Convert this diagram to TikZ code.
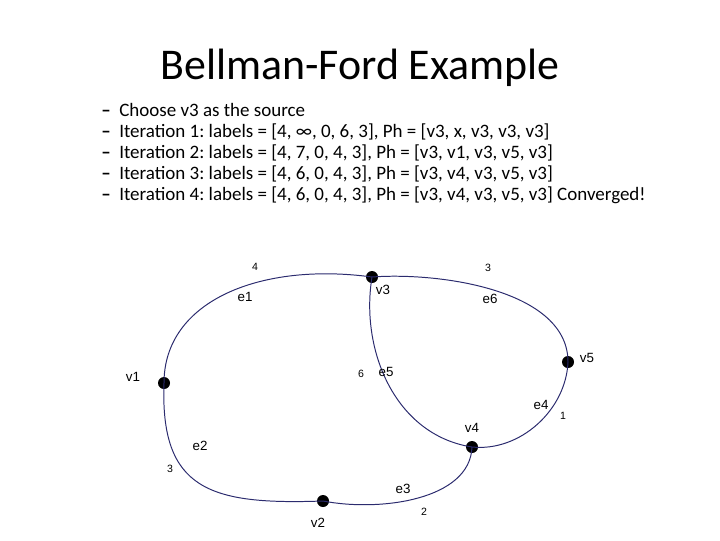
\documentclass[tikz,border=0pt]{standalone}
\usepackage{fontspec}
\setmainfont{Carlito}
\newfontfamily\graphfont{Liberation Sans}
\usetikzlibrary{positioning}
\definecolor{edgenavy}{HTML}{2B2B6E}
\frenchspacing
\tikzset{
    every node/.style={font=\small},
    titletext/.style={font=\fontsize{31.2}{37}\selectfont},
    bullet/.style={font=\fontsize{13.5}{16}\selectfont,anchor=base west,inner sep=0pt},
    vertex/.style={circle,fill=black,minimum size=3mm,inner sep=0pt},
    vlabel/.style={font=\graphfont\fontsize{9.5}{11}\selectfont,inner sep=1pt},
    elabel/.style={font=\graphfont\fontsize{9.5}{11}\selectfont,inner sep=1pt},
    wlabel/.style={font=\graphfont\fontsize{7.5}{9}\selectfont,inner sep=1pt},
    graphedge/.style={draw=edgenavy,line width=0.7pt}
}

\begin{document}
\begin{tikzpicture}[x=0.025cm,y=-0.025cm]
\useasboundingbox (0,0) rectangle (720,540);
% title and bullet list
\node[titletext] (title) at (360,68) {Bellman-Ford Example};
\foreach \i/\txt in {0/{Choose v3 as the source},
    1/{Iteration 1: labels = [4, ∞, 0, 6, 3], Ph = [v3, x, v3, v3, v3]},
    2/{Iteration 2: labels = [4, 7, 0, 4, 3], Ph = [v3, v1, v3, v5, v3]},
    3/{Iteration 3: labels = [4, 6, 0, 4, 3], Ph = [v3, v4, v3, v5, v3]},
    4/{Iteration 4: labels = [4, 6, 0, 4, 3], Ph = [v3, v4, v3, v5, v3] Converged!}}{
    \node[bullet] (dash\i) at (101,116+21*\i) {\textbf{--}};
    \node[bullet] (item\i) at (119,116+21*\i) {\txt};
}
% vertices
\node[vertex] (v1) at (164,383) {};
\node[vertex] (v2) at (323,501) {};
\node[vertex] (v3) at (372,277) {};
\node[vertex] (v4) at (472,447) {};
\node[vertex] (v5) at (568,362) {};
% edges
\draw[graphedge] (v1.center) .. controls (164,300) and (262,262) .. (v3.center);
\draw[graphedge] (v1.center) .. controls (160,490) and (210,505) .. (v2.center);
\draw[graphedge] (v2.center) .. controls (380,512) and (470,500) .. (v4.center);
\draw[graphedge] (v3.center) .. controls (360,350) and (395,435) .. (v4.center);
\draw[graphedge] (v5.center) .. controls (566,410) and (520,452) .. (v4.center);
\draw[graphedge] (v3.center) .. controls (440,272) and (568,290) .. (v5.center);
% vertex names
\node[vlabel] (n1) at (133,377) {v1};
\node[vlabel] (n2) at (318,523) {v2};
\node[vlabel] (n3) at (383,290) {v3};
\node[vlabel] (n4) at (472,428) {v4};
\node[vlabel] (n5) at (587,358) {v5};
% edge names and weights
\node[elabel] (ne1) at (245,297) {e1};
\node[wlabel] (w1) at (255,267) {4};
\node[elabel] (ne2) at (200,446) {e2};
\node[wlabel] (w2) at (170,469) {3};
\node[elabel] (ne3) at (403,489) {e3};
\node[wlabel] (w3) at (424,512) {2};
\node[elabel] (ne4) at (541,405) {e4};
\node[wlabel] (w4) at (563,416) {1};
\node[elabel] (ne5) at (386,372) {e5};
\node[wlabel] (w5) at (361,374) {6};
\node[elabel] (ne6) at (490,299) {e6};
\node[wlabel] (w6) at (488,268) {3};
\end{tikzpicture}
\end{document}
